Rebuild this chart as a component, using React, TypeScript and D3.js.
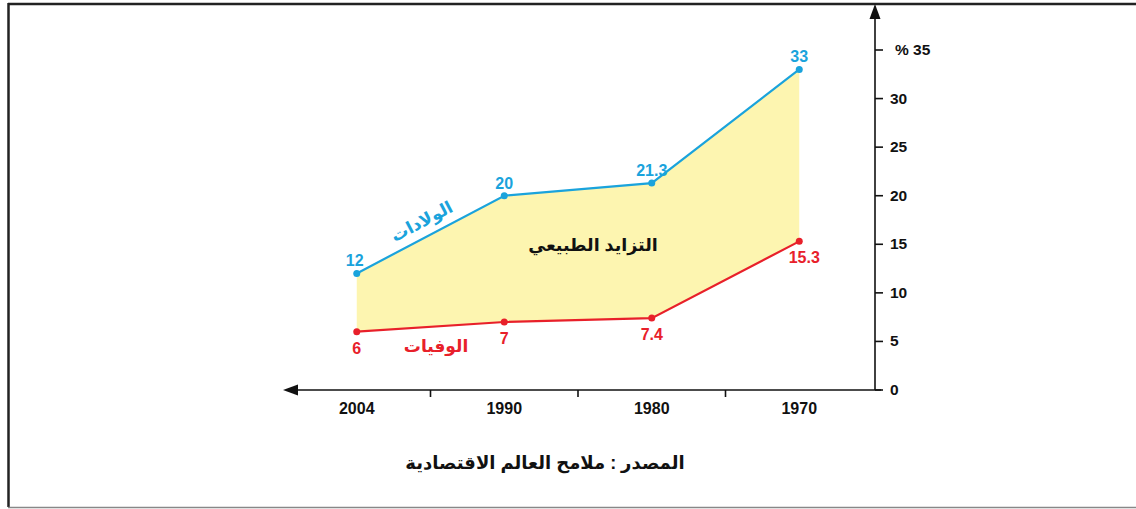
import React from 'react';
import * as d3 from 'd3';

// data
const years = ['2004', '1990', '1980', '1970'];
const births = [12, 20, 21.3, 33];
const deaths = [6, 7, 7.4, 15.3];
const yTicks = [0, 5, 10, 15, 20, 25, 30, 35];

const birthsLabel = 'الولادات';
const deathsLabel = 'الوفيات';
const gapLabel = 'التزايد الطبيعي';
const sourceLabel = 'المصدر : ملامح العالم الاقتصادية';

const W = 1136;
const H = 509;
const blue = '#1aa3dc';
const red = '#e8202a';
const fill = '#fdf5b0';
const font = '"Liberation Sans", Arial, "DejaVu Sans", sans-serif';

export default function App() {
  const axisX = 875;
  const axisY = 390;

  const x = d3.scaleBand<string>().domain(years).range([283, 873]);
  const y = d3.scaleLinear().domain([0, 35]).range([axisY, 50]);
  const cx = (i: number) => (x(years[i]) as number) + x.bandwidth() / 2;

  const area = d3.area<number>()
    .x((d, i) => cx(i))
    .y0((d, i) => y(deaths[i]))
    .y1(d => y(d));

  const line = d3.line<number>()
    .x((d, i) => cx(i))
    .y(d => y(d));

  // boundaries between the year bands
  const bounds = years.slice(1).map(yr => x(yr) as number);

  // angle of the first birth segment for the rotated series label
  const dx = cx(1) - cx(0);
  const dy = y(births[1]) - y(births[0]);
  const angle = (Math.atan2(dy, dx) * 180) / Math.PI;
  const midX = (cx(0) + cx(1)) / 2 - 6;
  const midY = (y(births[0]) + y(births[1])) / 2 - 8;

  return (
    <svg width={W} height={H} style={{ position: 'absolute', left: 0, top: 0, background: '#fff' }}
      fontFamily={font} fontWeight="bold">
      {/* frame */}
      <line x1={8} x2={W} y1={4} y2={4} stroke="#222" strokeWidth={2.5} />
      <line x1={8.5} x2={8.5} y1={3} y2={507} stroke="#222" strokeWidth={2.5} />
      <line x1={8} x2={W} y1={507.5} y2={507.5} stroke="#888" strokeWidth={1.5} />

      {/* area between the two series */}
      <path d={area(births) || ''} fill={fill} />
      <path d={line(births) || ''} fill="none" stroke={blue} strokeWidth={2.2} />
      <path d={line(deaths) || ''} fill="none" stroke={red} strokeWidth={2.2} />
      {births.map((v, i) => (
        <circle key={'b' + i} cx={cx(i)} cy={y(v)} r={3.5} fill={blue} />
      ))}
      {deaths.map((v, i) => (
        <circle key={'d' + i} cx={cx(i)} cy={y(v)} r={3.5} fill={red} />
      ))}

      {/* value labels */}
      {births.map((v, i) => (
        <text key={'bl' + i} x={cx(i) - (i === 0 ? 2 : 0)} y={y(v) - 7} textAnchor="middle"
          fontSize={16} fill={blue}>{String(v)}</text>
      ))}
      {deaths.map((v, i) => (
        <text key={'dl' + i} x={cx(i) + (i === 3 ? 5 : 0)} y={y(v) + 22} textAnchor="middle"
          fontSize={16} fill={red}>{String(v)}</text>
      ))}

      {/* series names */}
      <text x={midX} y={midY} textAnchor="middle" fontSize={17} fill={blue}
        transform={`rotate(${angle} ${midX} ${midY})`}>{birthsLabel}</text>
      <text x={436} y={352} textAnchor="middle" fontSize={17} fill={red}>{deathsLabel}</text>
      <text x={593} y={251} textAnchor="middle" fontSize={17.5} fill="#111">{gapLabel}</text>

      {/* x axis */}
      <line x1={290} x2={axisX + 6} y1={axisY} y2={axisY} stroke="#111" strokeWidth={1.6} />
      <path d={`M283,${axisY} L298,${axisY - 5.5} L298,${axisY + 5.5} Z`} fill="#111" />
      {bounds.map((b, i) => (
        <line key={'xt' + i} x1={b} x2={b} y1={axisY} y2={axisY + 7} stroke="#111" strokeWidth={1.6} />
      ))}
      {years.map((yr, i) => (
        <text key={'xl' + i} x={cx(i)} y={414} textAnchor="middle" fontSize={16} fill="#111">{yr}</text>
      ))}

      {/* y axis */}
      <line x1={axisX} x2={axisX} y1={axisY} y2={12} stroke="#111" strokeWidth={1.6} />
      <path d={`M${axisX},4 L${axisX - 5.5},19 L${axisX + 5.5},19 Z`} fill="#111" />
      {yTicks.map(t => (
        <g key={'yt' + t}>
          <line x1={axisX} x2={axisX + 8} y1={y(t)} y2={y(t)} stroke="#111" strokeWidth={1.6} />
          <text x={t === 35 ? 895 : 890} y={y(t) + 5} fontSize={15.5} fill="#111">
            {t === 35 ? '% 35' : String(t)}
          </text>
        </g>
      ))}

      {/* source */}
      <text x={545} y={469} textAnchor="middle" fontSize={18} fill="#111">{sourceLabel}</text>
    </svg>
  );
}
